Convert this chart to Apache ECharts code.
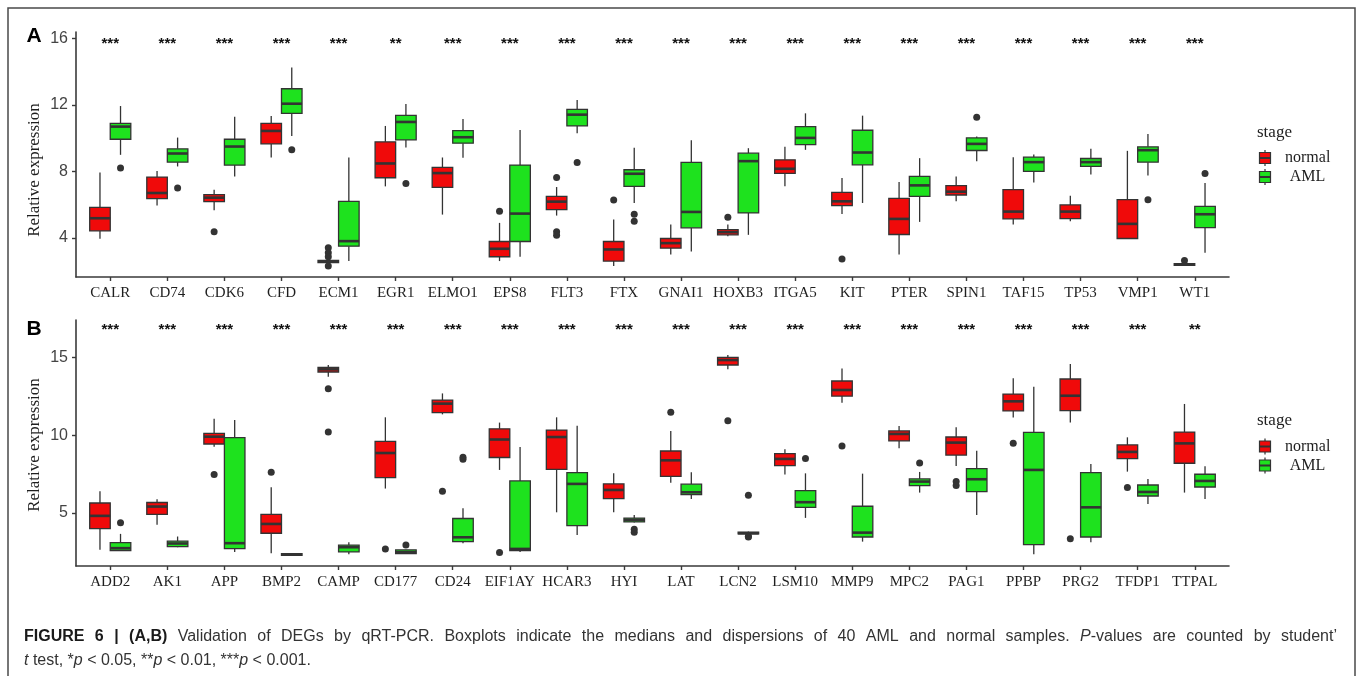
<!DOCTYPE html>
<html>
<head>
<meta charset="utf-8">
<script src="https://cdn.jsdelivr.net/npm/echarts@6/dist/echarts.min.js"></script>
<style>
  html, body { margin: 0; padding: 0; background: #ffffff; }
  #chart { width: 1358px; height: 676px; }
</style>
</head>
<body>
<div id="chart"></div>
<script>
// ---------- Panel A ----------
const genesA = ['CALR', 'CD74', 'CDK6', 'CFD', 'ECM1', 'EGR1', 'ELMO1', 'EPS8', 'FLT3', 'FTX',
                'GNAI1', 'HOXB3', 'ITGA5', 'KIT', 'PTER', 'SPIN1', 'TAF15', 'TP53', 'VMP1', 'WT1'];
// [lower whisker, Q1, median, Q3, upper whisker]
const normalA = [
  [3.94, 4.42, 5.18, 5.84, 7.94], [5.94, 6.36, 6.70, 7.66, 8.02], [5.66, 6.18, 6.42, 6.60, 6.90],
  [8.84, 9.66, 10.44, 10.90, 11.34], [2.46, 2.50, 2.58, 2.64, 2.70], [7.10, 7.62, 8.48, 9.78, 10.74],
  [5.40, 7.04, 7.90, 8.24, 8.84], [2.60, 2.86, 3.34, 3.78, 4.90], [5.34, 5.70, 6.18, 6.50, 7.06],
  [2.30, 2.60, 3.30, 3.78, 5.10], [3.00, 3.38, 3.68, 3.96, 4.80], [4.10, 4.18, 4.34, 4.50, 4.80],
  [7.10, 7.88, 8.16, 8.70, 9.48], [5.44, 5.94, 6.20, 6.74, 7.60], [3.00, 4.20, 5.14, 6.38, 7.36],
  [6.20, 6.58, 6.78, 7.14, 7.70], [4.80, 5.14, 5.58, 6.90, 8.86], [5.00, 5.16, 5.58, 5.98, 6.54],
  [3.96, 3.96, 4.84, 6.30, 9.24], [2.32, 2.34, 2.38, 2.44, 2.46]
];
const amlA = [
  [9.00, 9.94, 10.70, 10.90, 11.94], [8.30, 8.56, 9.08, 9.36, 10.04], [7.70, 8.38, 9.50, 9.94, 11.30],
  [10.14, 11.50, 12.08, 12.98, 14.26], [2.60, 3.50, 3.80, 6.20, 8.84], [9.44, 9.90, 10.98, 11.38, 12.06],
  [8.82, 9.70, 10.06, 10.46, 11.16], [2.86, 3.78, 5.46, 8.38, 10.50], [10.30, 10.74, 11.42, 11.74, 12.30],
  [6.10, 7.10, 7.86, 8.10, 9.42], [3.18, 4.60, 5.56, 8.54, 9.88], [4.18, 5.50, 8.62, 9.10, 9.40],
  [9.30, 9.62, 10.02, 10.70, 11.50], [6.10, 8.40, 9.14, 10.48, 11.36], [4.96, 6.50, 7.16, 7.70, 8.80],
  [8.62, 9.26, 9.66, 10.02, 10.10], [7.34, 8.00, 8.56, 8.86, 9.02], [7.82, 8.30, 8.56, 8.78, 9.36],
  [7.76, 8.56, 9.28, 9.48, 10.26], [3.10, 4.62, 5.42, 5.90, 7.30]
];
const normalOutA = [[], [], [4.36], [], [3.40, 3.10, 2.86, 2.30], [], [], [5.60], [7.64, 4.36, 4.16], [6.28],
                    [], [5.24], [], [2.72], [], [], [], [], [], [2.64]];
const amlOutA = [[8.20], [7.00], [], [9.30], [], [7.28], [], [], [8.54], [5.42, 5.00],
                 [], [], [], [], [], [11.26], [], [], [6.30], [7.88]];
const signifA = ['***', '***', '***', '***', '***', '**', '***', '***', '***', '***',
                 '***', '***', '***', '***', '***', '***', '***', '***', '***', '***'];
const yTicksA = [4, 8, 12, 16];

// ---------- Panel B ----------
const genesB = ['ADD2', 'AK1', 'APP', 'BMP2', 'CAMP', 'CD177', 'CD24', 'EIF1AY', 'HCAR3', 'HYI',
                'LAT', 'LCN2', 'LSM10', 'MMP9', 'MPC2', 'PAG1', 'PPBP', 'PRG2', 'TFDP1', 'TTPAL'];
const normalB = [
  [2.62, 3.99, 4.81, 5.64, 6.39], [4.23, 4.91, 5.41, 5.67, 5.88], [9.27, 9.44, 9.91, 10.13, 11.07],
  [2.40, 3.69, 4.29, 4.91, 6.65], [13.78, 14.08, 14.25, 14.38, 14.53], [6.57, 7.27, 8.86, 9.61, 11.16],
  [11.35, 11.46, 12.04, 12.27, 12.70], [7.77, 8.57, 9.73, 10.42, 10.82], [5.04, 7.81, 9.89, 10.34, 11.16],
  [5.04, 5.92, 6.48, 6.87, 7.55], [6.95, 7.36, 8.39, 8.99, 10.28], [14.25, 14.53, 14.85, 15.02, 15.17],
  [7.47, 8.05, 8.48, 8.82, 9.10], [12.10, 12.53, 12.92, 13.50, 14.31], [9.16, 9.64, 10.09, 10.28, 10.60],
  [8.03, 8.73, 9.53, 9.89, 10.52], [11.14, 11.57, 12.19, 12.66, 13.67], [10.82, 11.59, 12.55, 13.63, 14.59],
  [7.66, 8.50, 8.93, 9.38, 9.87], [6.31, 8.20, 9.48, 10.21, 12.02]
];
const amlB = [
  [2.58, 2.58, 2.73, 3.09, 3.65], [2.79, 2.83, 3.03, 3.18, 3.48], [2.49, 2.70, 3.05, 9.85, 10.99],
  [2.25, 2.27, 2.32, 2.38, 2.40], [2.34, 2.49, 2.79, 2.92, 3.11], [2.36, 2.38, 2.47, 2.62, 2.64],
  [3.05, 3.15, 3.43, 4.64, 5.30], [2.49, 2.58, 2.68, 7.06, 9.25], [3.58, 4.18, 6.87, 7.60, 10.62],
  [4.38, 4.42, 4.55, 4.66, 4.87], [5.90, 6.18, 6.33, 6.85, 7.62], [3.62, 3.65, 3.69, 3.76, 3.80],
  [4.68, 5.36, 5.69, 6.44, 7.55], [3.15, 3.45, 3.73, 5.43, 7.53], [6.31, 6.76, 7.02, 7.19, 7.64],
  [4.87, 6.37, 7.17, 7.85, 9.01], [2.34, 2.96, 7.77, 10.19, 13.13], [3.11, 3.45, 5.36, 7.60, 8.15],
  [5.58, 6.09, 6.35, 6.80, 7.19], [5.90, 6.67, 7.06, 7.49, 8.00]
];
const normalOutB = [[], [], [7.47], [7.62], [13.00, 10.21], [2.68], [6.39], [2.45], [], [],
                    [11.48], [10.94], [], [9.31], [], [7.02, 6.76], [9.49], [3.33], [6.63], []];
const amlOutB = [[4.36], [], [], [], [], [2.94], [8.58, 8.46], [], [], [3.95, 3.76],
                 [], [6.14, 3.50, 3.45], [8.50], [], [8.22], [], [], [], [], []];
const signifB = ['***', '***', '***', '***', '***', '***', '***', '***', '***', '***',
                 '***', '***', '***', '***', '***', '***', '***', '***', '***', '**'];
const yTicksB = [5, 10, 15];

const groupNames = ['normal', 'AML'];

// Figure caption; line 1 is set justified, line 2 is the paragraph's last line
const captionLine1 = ['{b|FIGURE}', '{b|6}', '{b||}', '{b|(A,B)}', 'Validation', 'of', 'DEGs', 'by', 'qRT-PCR.',
  'Boxplots', 'indicate', 'the', 'medians', 'and', 'dispersions', 'of', '40', 'AML', 'and', 'normal',
  'samples.', '{i|P}-values', 'are', 'counted', 'by', 'student\u2019'];
const captionLine2 = '{i|t} test, *{i|p} < 0.05, **{i|p} < 0.01, ***{i|p} < 0.001.';

// ---------- styling ----------
const RED = '#f00a0a';
const GREEN = '#1ee21e';
const INK = '#333333';
const AXIS_COL = '#3a3a3a';
const SERIF = '"Liberation Serif", "DejaVu Serif", serif';
const SANS = '"Liberation Sans", Arial, sans-serif';
const DODGE = 0.18;      // half of the dodge spacing between the two boxes
const HALF_W = 0.18;     // half box width in category units
const CAP_SIZE = 16;

const chart = echarts.init(document.getElementById('chart'));

const catTicks = genesA.map((g, i) => i + 1);

function xAxisFor(gridIndex, genes) {
  return {
    type: 'value', gridIndex, min: 0.4, max: 20.6,
    splitLine: { show: false },
    axisLine: { show: true, lineStyle: { color: AXIS_COL, width: 1.6 } },
    axisTick: { show: true, customValues: catTicks, length: 4, lineStyle: { color: AXIS_COL, width: 1.4 } },
    axisLabel: {
      customValues: catTicks, margin: 9,
      fontFamily: SERIF, fontSize: 15, color: '#1e1e1e',
      formatter: v => genes[Math.round(v) - 1]
    }
  };
}
function yAxisFor(gridIndex, min, max, ticks) {
  return {
    type: 'value', gridIndex, min, max,
    splitLine: { show: false },
    axisLine: { show: true, lineStyle: { color: AXIS_COL, width: 1.6 } },
    axisTick: { show: true, customValues: ticks, length: 4, lineStyle: { color: AXIS_COL, width: 1.4 } },
    axisLabel: { customValues: ticks, margin: 8, fontFamily: SANS, fontSize: 16, color: '#444444' }
  };
}

function boxRender(fill) {
  return function (params, api) {
    const x = api.value(0);
    const low = api.coord([x, api.value(1)]);
    const q1 = api.coord([x, api.value(2)]);
    const med = api.coord([x, api.value(3)]);
    const q3 = api.coord([x, api.value(4)]);
    const high = api.coord([x, api.value(5)]);
    const hw = api.size([HALF_W, 0])[0];
    const cx = low[0];
    const ls = { stroke: INK, lineWidth: 1.3 };
    return {
      type: 'group',
      children: [
        { type: 'line', shape: { x1: cx, y1: high[1], x2: cx, y2: q3[1] }, style: ls },
        { type: 'line', shape: { x1: cx, y1: q1[1], x2: cx, y2: low[1] }, style: ls },
        { type: 'rect', shape: { x: cx - hw, y: q3[1], width: 2 * hw, height: Math.max(q1[1] - q3[1], 1) },
          style: { fill, stroke: INK, lineWidth: 1.3 } },
        { type: 'line', shape: { x1: cx - hw, y1: med[1], x2: cx + hw, y2: med[1] },
          style: { stroke: INK, lineWidth: 2.6 } }
      ]
    };
  };
}

function starRender(labels) {
  return function (params, api) {
    const p = api.coord([api.value(0), api.value(1)]);
    return {
      type: 'text',
      style: {
        text: labels[params.dataIndex], x: p[0], y: p[1] + 3.5,
        align: 'center', verticalAlign: 'middle',
        font: 'bold 15px ' + SANS, fill: '#111111'
      }
    };
  };
}

function panelSeries(gridIndex, normal, aml, normalOut, amlOut, signif, starY) {
  const boxData = (arr, off) => arr.map((v, i) => [i + 1 + off].concat(v));
  const outData = (arr, off) => {
    const pts = [];
    arr.forEach((vals, i) => vals.forEach(v => pts.push([i + 1 + off, v])));
    return pts;
  };
  const common = { xAxisIndex: gridIndex, yAxisIndex: gridIndex, silent: true, animation: false };
  return [
    Object.assign({ type: 'custom', name: groupNames[0], renderItem: boxRender(RED), clip: false,
      encode: { x: 0, y: [1, 2, 3, 4, 5] }, data: boxData(normal, -DODGE) }, common),
    Object.assign({ type: 'custom', name: groupNames[1], renderItem: boxRender(GREEN), clip: false,
      encode: { x: 0, y: [1, 2, 3, 4, 5] }, data: boxData(aml, DODGE) }, common),
    Object.assign({ type: 'scatter', symbol: 'circle', symbolSize: 7, itemStyle: { color: INK, opacity: 1 },
      data: outData(normalOut, -DODGE).concat(outData(amlOut, DODGE)) }, common),
    Object.assign({ type: 'custom', renderItem: starRender(signif), clip: false,
      encode: { x: 0, y: 1 }, data: signif.map((s, i) => [i + 1, starY]) }, common)
  ];
}

function legendGroup(top) {
  const key = (y, fill) => ({
    type: 'group', children: [
      { type: 'line', shape: { x1: 1265, y1: y - 8, x2: 1265, y2: y + 8 }, style: { stroke: INK, lineWidth: 1.2 } },
      { type: 'rect', shape: { x: 1259.5, y: y - 5.5, width: 11, height: 11 }, style: { fill, stroke: INK, lineWidth: 1.2 } },
      { type: 'line', shape: { x1: 1259.5, y1: y, x2: 1270.5, y2: y }, style: { stroke: INK, lineWidth: 2 } }
    ]
  });
  return [
    { type: 'text', x: 1257, y: top, style: { text: 'stage', font: '17px ' + SERIF, fill: '#1e1e1e', verticalAlign: 'middle' } },
    key(top + 25.5, RED),
    key(top + 44.5, GREEN),
    { type: 'text', x: 1285, y: top + 25.5, style: { text: groupNames[0], font: '16px ' + SERIF, fill: '#1e1e1e', verticalAlign: 'middle' } },
    { type: 'text', x: 1307.5, y: top + 44.5, style: { text: groupNames[1], font: '16px ' + SERIF, fill: '#1e1e1e', align: 'center', verticalAlign: 'middle' } }
  ];
}

const yTitle = (cy) => ({
  type: 'text', x: 35, y: cy, rotation: Math.PI / 2,
  style: { text: 'Relative expression', font: '17px ' + SERIF, fill: '#1e1e1e', align: 'center', verticalAlign: 'middle' }
});

// ---------- caption ----------
const capRich = {
  b: { fontFamily: SANS, fontSize: CAP_SIZE, fontWeight: 'bold', fill: '#1a1a1a', color: '#1a1a1a' },
  i: { fontFamily: SANS, fontSize: CAP_SIZE, fontStyle: 'italic', fill: '#333333', color: '#333333' }
};
const measureCtx = document.createElement('canvas').getContext('2d');
function richWidth(word) {
  let w = 0;
  const re = /\{([a-z])\|([^}]*)\}|([^{]+)/g;
  let m;
  while ((m = re.exec(word)) !== null) {
    if (m[1] === 'b') { measureCtx.font = 'bold ' + CAP_SIZE + 'px ' + SANS; w += measureCtx.measureText(m[2]).width; }
    else if (m[1] === 'i') { measureCtx.font = 'italic ' + CAP_SIZE + 'px ' + SANS; w += measureCtx.measureText(m[2]).width; }
    else { measureCtx.font = CAP_SIZE + 'px ' + SANS; w += measureCtx.measureText(m[3]).width; }
  }
  return w;
}
function justifiedLine(words, x0, x1, y) {
  const widths = words.map(richWidth);
  const total = widths.reduce((a, b) => a + b, 0);
  const gap = (x1 - x0 - total) / (words.length - 1);
  let x = x0;
  return words.map((wd, k) => {
    const el = { type: 'text', x, y, style: { text: wd, rich: capRich, font: CAP_SIZE + 'px ' + SANS, fill: '#333333', verticalAlign: 'middle' } };
    x += widths[k] + gap;
    return el;
  });
}

chart.setOption({
  animation: false,
  backgroundColor: '#ffffff',
  grid: [
    { left: 76, top: 32, width: 1153, height: 245 },
    { left: 76, top: 320, width: 1153, height: 246 }
  ],
  xAxis: [xAxisFor(0, genesA), xAxisFor(1, genesB)],
  yAxis: [yAxisFor(0, 1.64, 16.4, yTicksA), yAxisFor(1, 1.58, 17.43, yTicksB)],
  series: panelSeries(0, normalA, amlA, normalOutA, amlOutA, signifA, 15.9)
    .concat(panelSeries(1, normalB, amlB, normalOutB, amlOutB, signifB, 17.0)),
  graphic: [
    { type: 'rect', shape: { x: 8, y: 8, width: 1347, height: 720 },
      style: { fill: 'none', stroke: '#4a4a4a', lineWidth: 1.5 }, silent: true },
    { type: 'text', x: 34, y: 36, style: { text: 'A', font: 'bold 21px ' + SANS, fill: '#000', align: 'center', verticalAlign: 'middle' } },
    { type: 'text', x: 34, y: 329, style: { text: 'B', font: 'bold 21px ' + SANS, fill: '#000', align: 'center', verticalAlign: 'middle' } },
    yTitle(170),
    yTitle(445),
    ...legendGroup(132.5),
    ...legendGroup(421),
    ...justifiedLine(captionLine1, 24, 1337, 637),
    { type: 'text', x: 24, y: 661, style: { text: captionLine2, rich: capRich, font: CAP_SIZE + 'px ' + SANS, fill: '#333333', verticalAlign: 'middle' } }
  ]
});
</script>
</body>
</html>
